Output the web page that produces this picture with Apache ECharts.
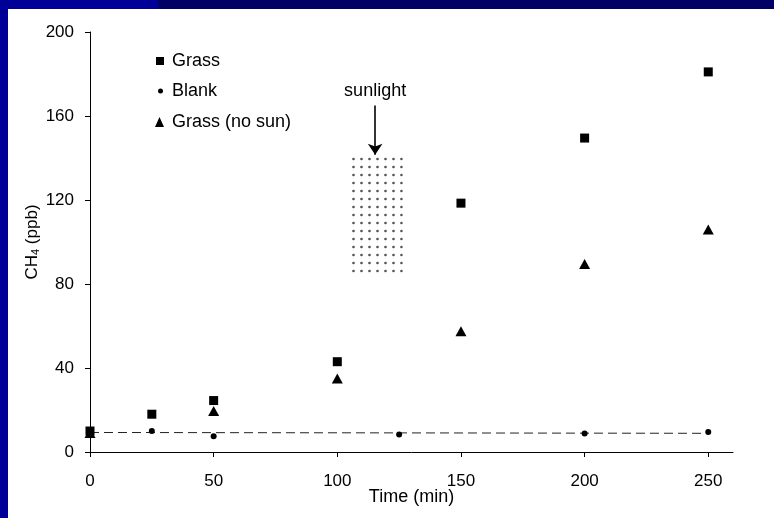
<!DOCTYPE html>
<html>
<head>
<meta charset="utf-8">
<script src="https://cdn.jsdelivr.net/npm/echarts@6/dist/echarts.min.js"></script>
<style>
  html, body { margin: 0; padding: 0; }
  body { width: 774px; height: 518px; background: #000099; position: relative; overflow: hidden; }
  #band { position: absolute; left: 158px; top: 0; width: 616px; height: 9px; background: #000066; }
  #chart { position: absolute; left: 8px; top: 9px; width: 766px; height: 509px; background: #ffffff; }
</style>
</head>
<body>
<div id="band"></div>
<div id="chart"></div>
<script>
// Axis ticks
const timeTicks = [0, 50, 100, 150, 200, 250];
const ppbTicks = [0, 40, 80, 120, 160, 200];

// Grass chamber
const grassTime = [0, 25, 50, 100, 150, 200, 250];
const grassCH4 = [10, 18, 24.5, 43, 118.5, 149.5, 181];

// Blank chamber
const blankTime = [0, 25, 50, 125, 200, 250];
const blankCH4 = [9, 10, 7.5, 8.3, 8.8, 9.5];

// Grass without sunlight
const noSunTime = [0, 50, 100, 150, 200, 250];
const noSunCH4 = [9, 19.5, 35, 57.5, 89.5, 106];

// Blank trend line
const trendTime = [0, 250];
const trendCH4 = [9.3, 8.9];

// Sunlight exposure window and its pointer
const sunlightTime = [105.5, 126.5];
const sunlightCH4 = [83.5, 140.5];
const arrowTime = 115.3;
const arrowCH4 = [165, 141.5];

const pair = (xs, ys) => xs.map((x, i) => [x, ys[i]]);

// dotted fill for the sunlight window
const tile = document.createElement('canvas');
tile.width = 8; tile.height = 8;
const tc = tile.getContext('2d');
tc.fillStyle = '#555';
tc.beginPath();
tc.arc(1.5, 6, 1.35, 0, Math.PI * 2);
tc.fill();

const FONT = 'Liberation Sans, Arial, sans-serif';
const chart = echarts.init(document.getElementById('chart'), null, { renderer: 'canvas' });

function legendFor(name, icon, w, h, top, left, pad) {
  return {
    data: [name], icon: icon, itemWidth: w, itemHeight: h,
    top: top, left: left, padding: 0, selectedMode: false,
    itemStyle: { color: '#000', opacity: 1 },
    textStyle: { fontFamily: FONT, fontSize: 18, color: '#000', padding: [0, 0, 0, pad] }
  };
}

const mark = { color: '#000', opacity: 1 };

chart.setOption({
  animation: false,
  textStyle: { fontFamily: FONT },
  grid: { left: 82, top: 23, right: 41, bottom: 66 },
  legend: [
    legendFor('Grass', 'rect', 8, 8, 43, 148, 3),
    legendFor('Blank', 'circle', 5, 5, 73, 150, 4),
    legendFor('Grass (no sun)', 'triangle', 9, 10, 104, 147, 3)
  ],
  xAxis: {
    type: 'value', min: 0, max: 260, interval: 50,
    name: 'Time (min)', nameLocation: 'middle', nameGap: 36, nameMoveOverlap: false,
    nameTextStyle: { fontSize: 18, color: '#000', fontFamily: FONT },
    axisLine: { lineStyle: { color: '#000', width: 1 } },
    axisTick: { show: true, length: 5, inside: false, customValues: timeTicks, lineStyle: { color: '#000' } },
    axisLabel: { fontSize: 17, color: '#000', margin: 21, customValues: timeTicks, fontFamily: FONT },
    splitLine: { show: false }
  },
  yAxis: {
    type: 'value', min: 0, max: 200, interval: 40,
    name: '{a|CH}{b|4}{a| (ppb)}', nameLocation: 'middle', nameGap: 49, nameRotate: 90, nameMoveOverlap: false,
    nameTextStyle: {
      rich: {
        a: { fontSize: 17, color: '#000', fontFamily: FONT },
        b: { fontSize: 11, color: '#000', fontFamily: FONT, verticalAlign: 'bottom', lineHeight: 17 }
      }
    },
    axisLine: { show: true, lineStyle: { color: '#000', width: 1 } },
    axisTick: { show: true, length: 5, inside: false, customValues: ppbTicks, lineStyle: { color: '#000' } },
    axisLabel: { fontSize: 17, color: '#000', margin: 16, customValues: ppbTicks, fontFamily: FONT },
    splitLine: { show: false }
  },
  series: [
    {
      name: 'trend', type: 'line', data: pair(trendTime, trendCH4),
      symbol: 'none', silent: true, z: 1,
      lineStyle: { color: '#222', width: 1, type: [9, 5] },
      markArea: {
        silent: true,
        label: { show: false },
        itemStyle: { color: { image: tile, repeat: 'repeat' }, opacity: 1 },
        data: [[{ coord: [sunlightTime[0], sunlightCH4[1]] }, { coord: [sunlightTime[1], sunlightCH4[0]] }]]
      },
      markLine: {
        silent: true, animation: false,
        symbol: ['none', 'arrow'], symbolSize: 11,
        lineStyle: { color: '#000', width: 1.6, type: 'solid', opacity: 1 },
        itemStyle: { color: '#000' },
        label: { show: true, position: 'start', formatter: 'sunlight', fontSize: 18, color: '#000', fontFamily: FONT, distance: 5 },
        data: [[{ coord: [arrowTime, arrowCH4[0]] }, { coord: [arrowTime, arrowCH4[1]] }]]
      }
    },
    {
      name: 'Blank', type: 'scatter', data: pair(blankTime, blankCH4),
      symbol: 'circle', symbolSize: 6, clip: false, z: 3,
      itemStyle: mark
    },
    {
      name: 'Grass (no sun)', type: 'scatter', data: pair(noSunTime, noSunCH4),
      symbol: 'triangle', symbolSize: [11, 10], clip: false, z: 4,
      itemStyle: mark
    },
    {
      name: 'Grass', type: 'scatter', data: pair(grassTime, grassCH4),
      symbol: 'rect', symbolSize: 9, clip: false, z: 5,
      itemStyle: mark
    }
  ]
});
</script>
</body>
</html>
